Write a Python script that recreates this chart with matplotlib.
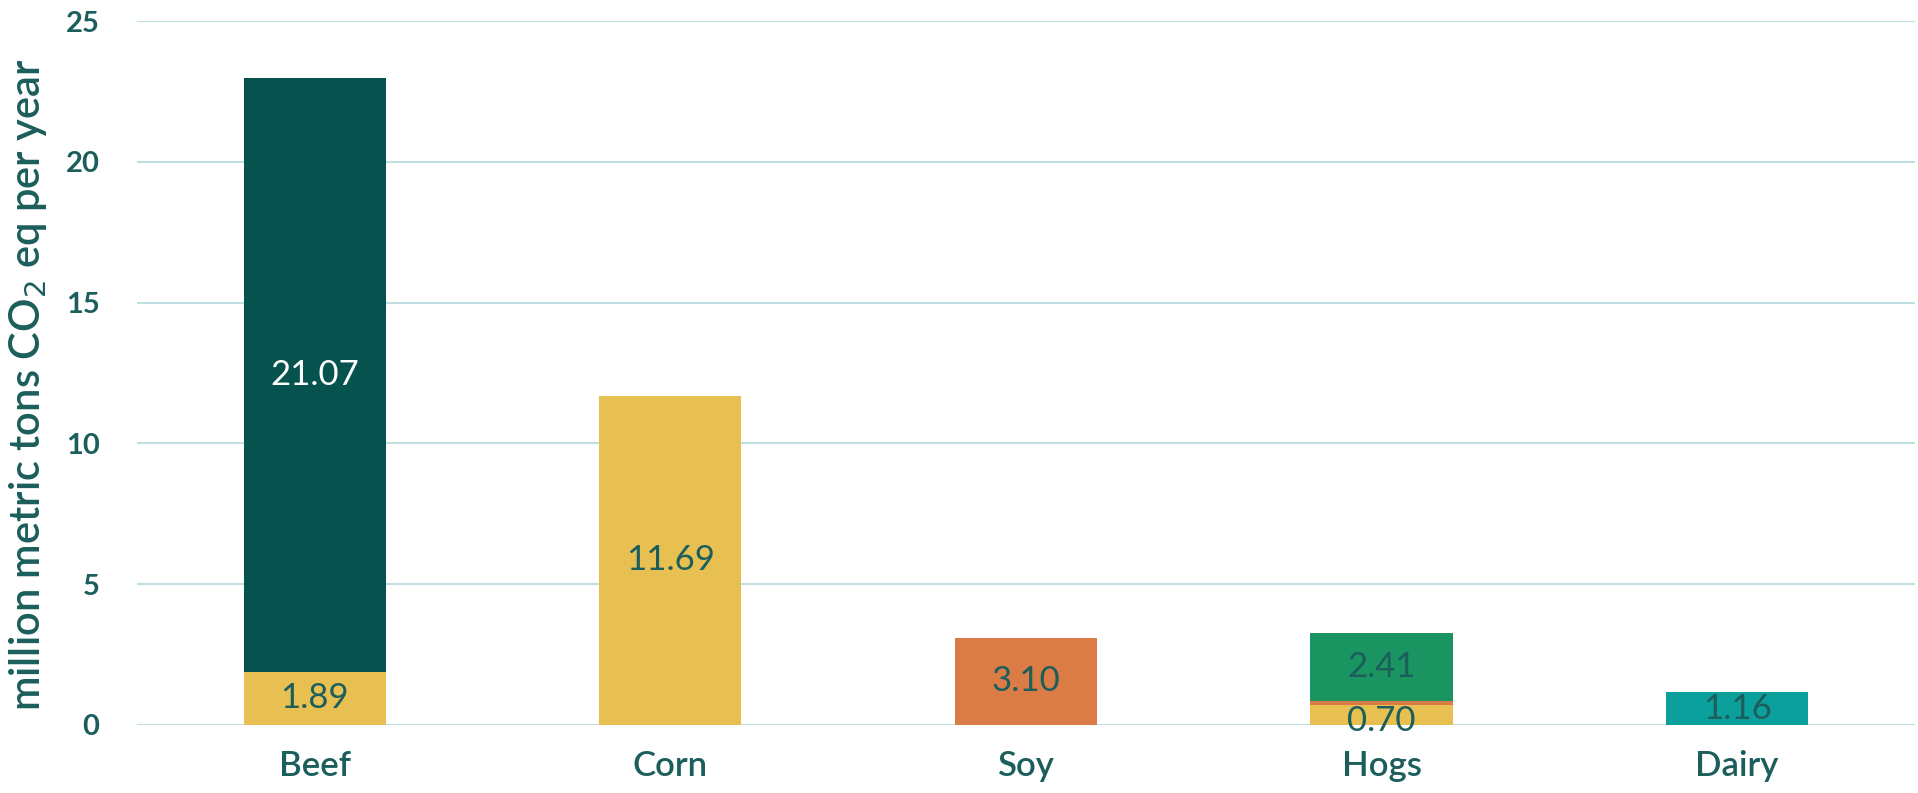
import numpy as np
import matplotlib.pyplot as plt

# Data
categories = ['Beef', 'Corn', 'Soy', 'Hogs', 'Dairy']
# stacked layers, bottom to top
corn_part = [1.89, 11.69, 0.0, 0.70, 0.0]
soy_part = [0.0, 0.0, 3.10, 0.15, 0.0]
animal_part = [21.07, 0.0, 0.0, 2.41, 1.16]
animal_colors = ['#06524f', '#06524f', '#06524f', '#1a9460', '#0ba09c']

# label values (only the ones printed on the chart)
labels = [
    (0, 1.89, 'corn'), (0, 21.07, 'animal'),
    (1, 11.69, 'corn'),
    (2, 3.10, 'soy'),
    (3, 0.70, 'corn'), (3, 2.41, 'animal'),
    (4, 1.16, 'animal'),
]

text_col = '#1b5e5b'
plt.rcParams['font.family'] = ['Lato', 'DejaVu Sans']

fig = plt.figure(figsize=(19.18, 7.93), dpi=100)
ax = fig.add_axes([0.0714, 0.0858, 0.927, 0.8877])

x = np.arange(len(categories))
w = 0.4
corn = np.array(corn_part)
soy = np.array(soy_part)
animal = np.array(animal_part)

ax.bar(x, corn, w, color='#e8c052', zorder=3)
ax.bar(x, soy, w, bottom=corn, color='#db7b45', zorder=3)
ax.bar(x, animal, w, bottom=corn + soy, color=animal_colors, zorder=3)

for i, v, part in labels:
    if part == 'corn':
        y = v / 2
    elif part == 'soy':
        y = corn[i] + v / 2
    else:
        y = corn[i] + soy[i] + v / 2
    if i == 3 and part == 'corn':
        y = 0.14  # the label hangs below the baseline in the original
    col = 'white' if (i == 0 and part == 'animal') else text_col
    ax.text(i, y, f'{v:.2f}', ha='center', va='center', fontsize=25, color=col, zorder=4)

ax.set_xlim(-0.5, 4.5)
ax.set_ylim(0, 25)
ax.set_yticks(np.arange(0, 26, 5))
ax.set_xticks(x)
ax.set_xticklabels(categories)
ax.tick_params(axis='x', length=0, pad=18, labelsize=25, labelcolor=text_col)
ax.tick_params(axis='y', length=0, pad=27, labelsize=21, labelcolor=text_col)
for lbl in ax.get_yticklabels():
    lbl.set_fontweight('bold')
for lbl in ax.get_xticklabels():
    lbl.set_fontweight('semibold')

ax.grid(axis='y', color='#bfe0e3', linewidth=1.5, zorder=0)
for s in ax.spines.values():
    s.set_visible(False)

ax.set_ylabel('million metric tons CO$_2$ eq per year', fontsize=30, color=text_col,
              fontweight='semibold', va='center')
ax.yaxis.set_label_coords(-0.061, 0.483)

fig.savefig('out.png', dpi=100)
